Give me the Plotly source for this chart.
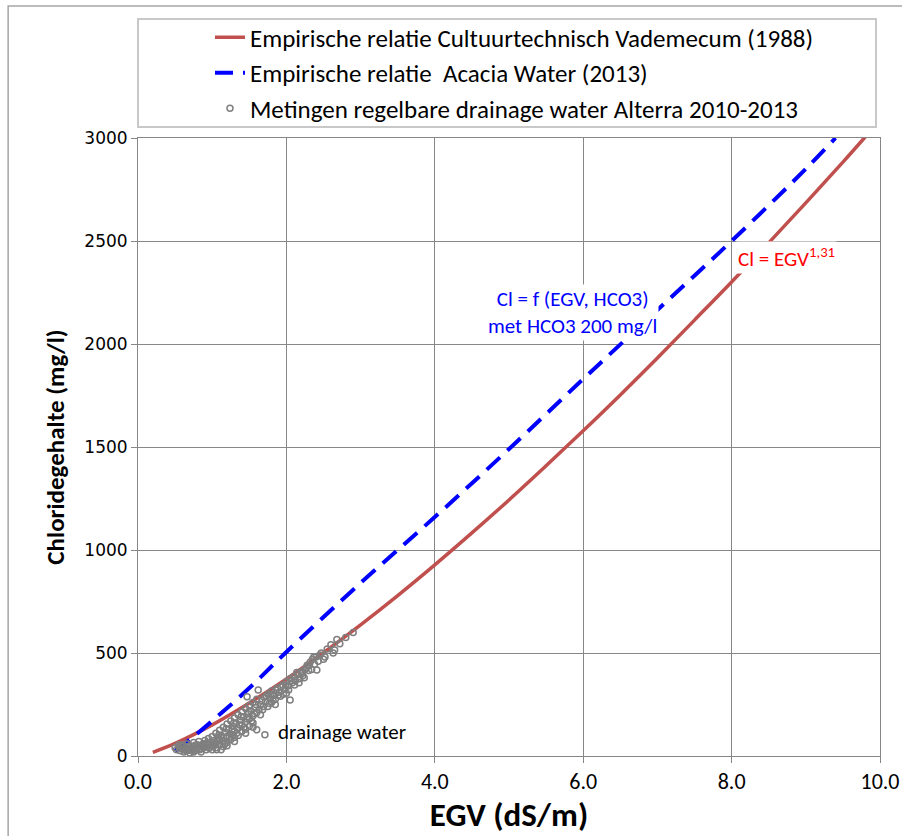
import plotly.graph_objects as go

# Empirische relatie Cultuurtechnisch Vademecum (1988)
red_egv = [0.2, 0.5, 1.0, 1.5, 2.0, 2.5, 3.0, 3.5, 4.0, 4.5, 5.0, 5.5, 6.0, 6.5, 7.0, 7.5, 8.0, 8.5, 9.0, 9.5, 9.8]
red_cl = [18, 61, 151, 257, 374, 502, 637, 779, 928, 1083, 1243, 1409, 1579, 1753, 1932, 2116, 2301, 2491, 2685, 2883, 3005]

# Empirische relatie Acacia Water (2013)
blue_egv = [0.5, 0.7, 1.0, 1.5, 2.0, 3.0, 4.0, 5.0, 6.0, 7.0, 8.0, 9.0, 9.4]
blue_cl = [25, 80, 170, 330, 505, 840, 1160, 1490, 1830, 2165, 2500, 2850, 3000]

# Metingen regelbare drainage water Alterra 2010-2013
meas_egv = [0.50, 0.52, 0.55, 0.57, 0.60, 0.60, 0.62, 0.65, 0.66, 0.68, 0.70, 0.70, 0.72, 0.75, 0.75, 0.78,
            0.80, 0.80, 0.82, 0.85, 0.85, 0.88, 0.90, 0.90, 0.92, 0.95, 0.95, 0.98, 1.00, 1.00, 1.02, 1.05,
            1.05, 1.08, 1.10, 1.10, 1.12, 1.15, 1.15, 1.18, 1.20, 1.20, 1.22, 1.25, 1.25, 1.28, 1.30, 1.30,
            1.32, 1.35, 1.35, 1.38, 1.40, 1.40, 1.42, 1.45, 1.45, 1.48, 1.50, 1.50, 1.52, 1.55, 1.55, 1.58,
            1.60, 1.60, 1.62, 1.65, 1.68, 1.70, 1.72, 1.75, 1.75, 1.78, 1.80, 1.80, 1.83, 1.85, 1.88, 1.90,
            1.92, 1.95, 1.98, 2.00, 2.00, 2.02, 2.05, 2.05, 2.08, 2.10, 2.12, 2.15, 2.18, 2.20, 2.22, 2.25,
            2.28, 2.30, 2.32, 2.35, 2.38, 2.40, 2.41, 2.45, 2.50, 2.55, 2.60, 2.63, 2.65, 2.68, 2.72, 2.80,
            2.90, 1.06, 1.28, 1.71, 1.60, 1.47, 1.05, 1.10, 1.15, 1.20, 1.25, 1.30, 1.35, 1.12, 1.40, 1.45,
            1.50, 1.55, 1.00, 0.85, 0.75, 0.65, 0.58, 0.63, 0.68, 0.73, 0.78, 0.83, 0.88, 0.93, 0.97, 1.03,
            0.55, 0.62, 0.70, 0.77, 0.83, 0.87, 0.92, 0.96, 1.02, 1.07, 1.09, 1.13, 1.17, 1.19, 1.23, 1.27,
            1.29, 1.33, 1.37, 1.39, 1.43, 1.47, 1.49, 1.53, 1.57, 1.59, 1.63, 1.67, 1.69, 1.73, 1.77, 1.79,
            1.82, 1.86, 1.89, 1.93, 1.96, 1.99, 2.03, 2.07, 2.11, 2.14, 2.17, 2.21, 2.24, 2.27, 2.31, 2.34,
            2.37, 2.43, 2.47, 2.52, 1.55, 1.65, 1.45, 1.85, 1.20, 1.30]
meas_cl = [40, 30, 45, 25, 35, 55, 20, 40, 60, 30, 50, 15, 38, 45, 65, 28,
           55, 40, 70, 35, 50, 60, 45, 75, 30, 55, 85, 65, 50, 95, 75, 110,
           60, 90, 125, 80, 100, 140, 70, 115, 95, 155, 130, 105, 170, 145, 120, 185,
           160, 135, 200, 175, 150, 215, 190, 165, 230, 205, 180, 245, 220, 195, 260, 235,
           210, 275, 320, 250, 225, 285, 265, 240, 300, 280, 260, 315, 295, 275, 330, 310,
           290, 345, 325, 305, 360, 340, 272, 375, 355, 385, 365, 395, 375, 410, 390, 420,
           440, 415, 455, 470, 445, 480, 418, 490, 470, 520, 540, 500, 515, 565, 545, 575,
           600, 30, 103, 103, 127, 288, 40, 55, 45, 65, 80, 90, 100, 30, 120, 130,
           145, 160, 30, 20, 20, 25, 50, 30, 45, 25, 35, 48, 40, 62, 42, 58,
           55, 48, 28, 52, 30, 44, 62, 38, 48, 72, 102, 88, 58, 132, 92, 128,
           160, 110, 150, 190, 140, 180, 215, 170, 205, 250, 225, 270, 240, 290, 255, 300,
           270, 320, 295, 335, 300, 345, 320, 365, 345, 405, 355, 400, 380, 430, 440, 420,
           480, 460, 500, 480, 140, 200, 110, 250, 50, 70]

xticks = [0, 2, 4, 6, 8, 10]
xticklabels = ["0.0", "2.0", "4.0", "6.0", "8.0", "10.0"]
yticks = [0, 500, 1000, 1500, 2000, 2500, 3000]

CAL = "Carlito, Lato, sans-serif"
GRID = "#878787"

fig = go.Figure()
fig.add_trace(go.Scatter(
    x=red_egv, y=red_cl, mode="lines", line=dict(color="#C0504D", width=3.5, shape="spline"),
    name="Empirische relatie Cultuurtechnisch Vademecum (1988)", legendgroup="a"))
fig.add_trace(go.Scatter(
    x=blue_egv, y=blue_cl, mode="lines", line=dict(color="#0000FF", width=4, dash="18px,10px", shape="spline"),
    name="Empirische relatie  Acacia Water (2013)", legendgroup="b"))
fig.add_trace(go.Scatter(
    x=meas_egv, y=meas_cl, mode="markers",
    marker=dict(symbol="circle-open", size=6, color="#7F7F7F", line=dict(width=1.5, color="#7F7F7F")),
    name="Metingen regelbare drainage water Alterra 2010-2013", legendgroup="c"))

fig.update_layout(
    width=902, height=836,
    margin=dict(l=138, r=22, t=138, b=80, autoexpand=False),
    paper_bgcolor="white", plot_bgcolor="white",
    showlegend=True,
    legend=dict(
        x=0.097, y=1.20, xanchor="left", yanchor="top",
        bgcolor="rgba(0,0,0,0)", borderwidth=0,
        font=dict(family=CAL, size=25, color="black"),
        traceorder="grouped", tracegroupgap=0,
    ),
    xaxis=dict(
        range=[0, 10], tickvals=xticks, ticktext=xticklabels,
        automargin=False,
        showgrid=True, gridcolor=GRID, gridwidth=1,
        showline=True, linecolor=GRID, linewidth=1, mirror=True,
        ticks="outside", ticklen=6, tickcolor=GRID,
        tickfont=dict(family=CAL, size=22, color="black"),
        ticklabeloverflow="allow",
        zeroline=False,
        title=dict(text="<b>EGV (dS/m)</b>", font=dict(family=CAL, size=33, color="black"), standoff=6),
    ),
    yaxis=dict(
        range=[0, 3000], tickvals=yticks,
        automargin=False,
        showgrid=True, gridcolor=GRID, gridwidth=1,
        showline=True, linecolor=GRID, linewidth=1, mirror=True,
        ticks="outside", ticklen=6, tickcolor=GRID,
        tickfont=dict(family="DejaVu Sans", size=17, color="black"),
        zeroline=False,
        title=dict(text="<b>Chloridegehalte (mg/l)</b>", font=dict(family=CAL, size=25, color="black"), standoff=12),
    ),
    shapes=[
        dict(type="rect", xref="paper", yref="paper", x0=-0.175, x1=1.06, y0=-0.2, y1=1.2136,
             line=dict(color="#A6A6A6", width=1.5), fillcolor="rgba(0,0,0,0)", layer="below"),
        dict(type="rect", xref="paper", yref="paper", x0=0.0, x1=0.9946, y0=1.0178, y1=1.1926,
             line=dict(color="#C8C8C8", width=2), fillcolor="rgba(0,0,0,0)", layer="above"),
    ],
    annotations=[
        dict(x=5.86, y=2154, xref="x", yref="y", showarrow=False,
             text="Cl = f (EGV, HCO3)<br>met HCO3 200 mg/l", align="center",
             font=dict(family=CAL, size=21, color="#0000FF"), bgcolor="white"),
        dict(x=8.06, y=2420, xref="x", yref="y", showarrow=False, xanchor="left",
             text="Cl = EGV<sup>1,31</sup>",
             font=dict(family=CAL, size=21, color="#FF0000"), bgcolor="white"),
        dict(x=2.75, y=117, xref="x", yref="y", showarrow=False,
             text="drainage water",
             font=dict(family=CAL, size=21, color="black")),
    ],
)

fig.write_html("out.html")
